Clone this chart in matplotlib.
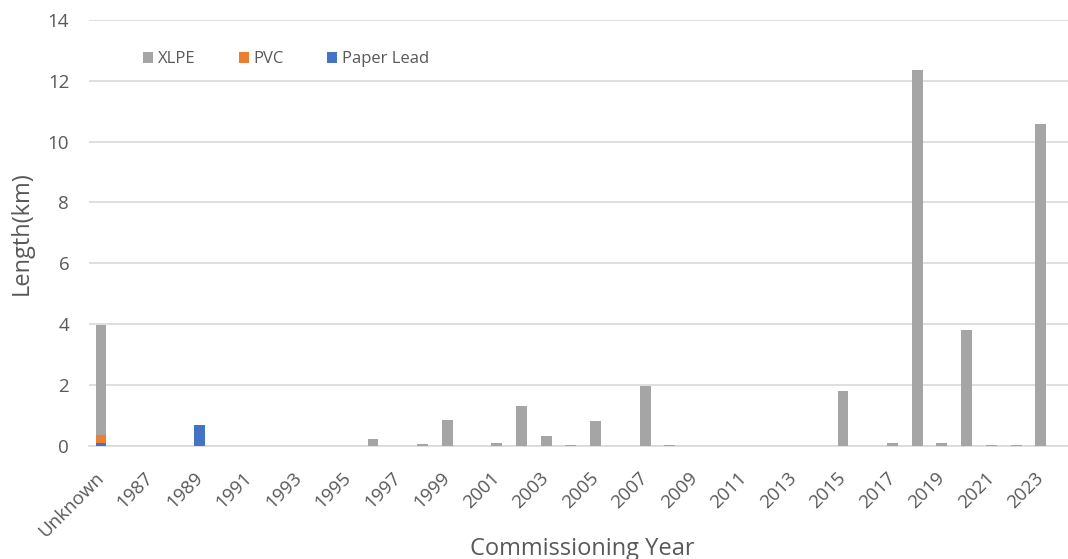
import matplotlib
matplotlib.use("Agg")
import matplotlib.pyplot as plt
import numpy as np

# Commissioning years (first category holds cables of unknown age)
categories = ["Unknown"] + [str(y) for y in range(1986, 2024)]

# Cable length per insulation type, km
xlpe = {
    "Unknown": 3.63, "1996": 0.22, "1998": 0.06, "1999": 0.85, "2001": 0.10,
    "2002": 1.30, "2003": 0.31, "2004": 0.03, "2005": 0.80, "2007": 1.95,
    "2008": 0.03, "2015": 1.80, "2017": 0.10, "2018": 12.36, "2019": 0.10,
    "2020": 3.81, "2021": 0.03, "2022": 0.03, "2023": 10.58,
}
pvc = {"Unknown": 0.25}
paper_lead = {"Unknown": 0.10, "1989": 0.67}

series_names = ["XLPE", "PVC", "Paper Lead"]
series_colors = ["#a5a5a5", "#ed7d31", "#4472c4"]

text_color = "#595959"
grid_color = "#d9d9d9"
plt.rcParams["font.family"] = ["Open Sans", "DejaVu Sans"]

x = np.arange(len(categories))
xlpe_v = np.array([xlpe.get(c, 0.0) for c in categories])
pvc_v = np.array([pvc.get(c, 0.0) for c in categories])
lead_v = np.array([paper_lead.get(c, 0.0) for c in categories])

W, H = 1068, 559
fig = plt.figure(figsize=(W / 100, H / 100), dpi=100)
ax = fig.add_axes([0.083, 0.2027, 0.917, 0.7616])

w = 0.44
# stacked columns: paper lead at the base, PVC above it, XLPE on top
b_lead = ax.bar(x, lead_v, w, color=series_colors[2], zorder=3, label=series_names[2])
b_pvc = ax.bar(x, pvc_v, w, bottom=lead_v, color=series_colors[1], zorder=3, label=series_names[1])
b_xlpe = ax.bar(x, xlpe_v, w, bottom=lead_v + pvc_v, color=series_colors[0], zorder=3, label=series_names[0])

ax.set_ylim(0, 14)
ax.set_yticks(np.arange(0, 15, 2))
ax.set_xlim(-0.5, 39.1)
ax.yaxis.grid(True, color=grid_color, linewidth=1.2, zorder=0)
ax.set_axisbelow(True)
for s in ["top", "right", "left"]:
    ax.spines[s].set_visible(False)
ax.spines["bottom"].set_color(grid_color)
ax.spines["bottom"].set_linewidth(1.2)
ax.tick_params(axis="both", length=0, colors=text_color, labelsize=13.5)
ax.tick_params(axis="y", pad=14)

ax.set_xticks(x[::2])
ax.set_xticklabels(categories[::2], rotation=45, ha="right", va="center",
                   rotation_mode="anchor")
ax.tick_params(axis="x", pad=21)

ax.set_ylabel("Length(km)", color=text_color, fontsize=17, labelpad=10)
fig.text(582 / W, 1 - 555 / H, "Commissioning Year", color=text_color,
         fontsize=17, ha="center", va="baseline")

leg = ax.legend(handles=[b_xlpe, b_pvc, b_lead], labels=series_names,
                loc="upper left", bbox_to_anchor=(0.04, 0.962), ncol=3,
                frameon=False, fontsize=12, handlelength=0.6, handleheight=0.6,
                handletextpad=0.3, columnspacing=2.6)
for t in leg.get_texts():
    t.set_color(text_color)

fig.savefig("out.png", dpi=100)
